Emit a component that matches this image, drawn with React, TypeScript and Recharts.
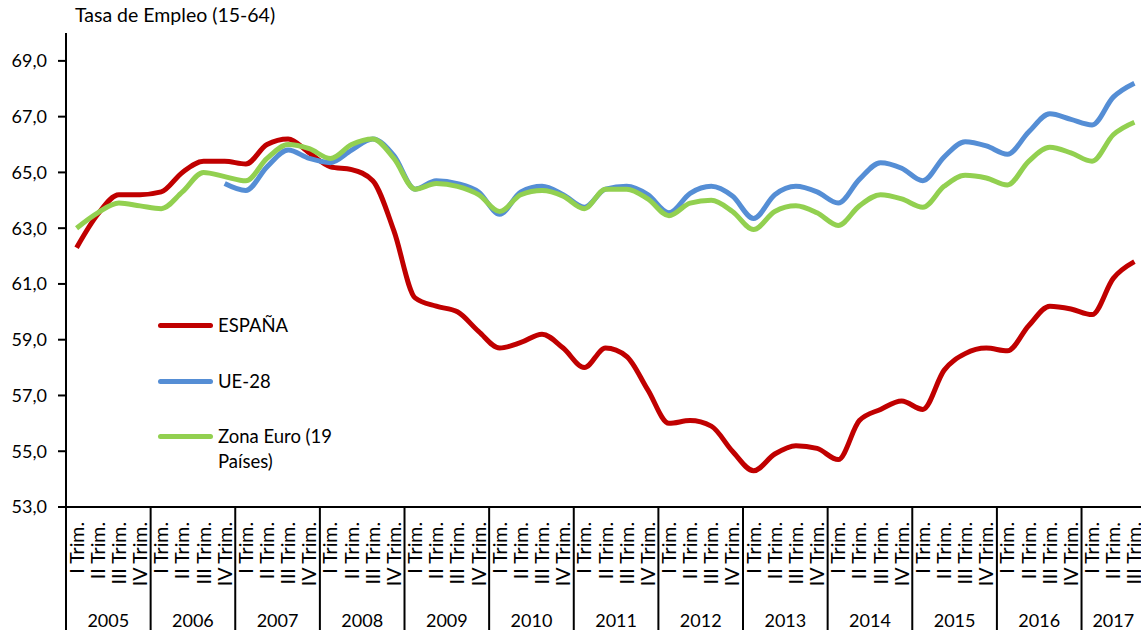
import React from 'react';
import { LineChart, Line, XAxis, YAxis, Legend } from 'recharts';

const years = ['2005', '2006', '2007', '2008', '2009', '2010', '2011', '2012', '2013', '2014', '2015', '2016', '2017'];
const quarterLabels = ['I Trim.', 'II Trim.', 'III Trim.', 'IV Trim.'];
const quartersPerYear = [4, 4, 4, 4, 4, 4, 4, 4, 4, 4, 4, 4, 3];

const espana = [
  62.3, 63.5, 64.2, 64.2,
  64.3, 65.0, 65.4, 65.4,
  65.3, 66.0, 66.2, 65.7,
  65.2, 65.1, 64.7, 62.9,
  60.5, 60.2, 60.0, 59.3,
  58.7, 58.9, 59.2, 58.7,
  58.0, 58.7, 58.4, 57.2,
  56.0, 56.1, 55.9, 55.0,
  54.3, 54.9, 55.2, 55.1,
  54.7, 56.1, 56.5, 56.8,
  56.5, 57.9, 58.5, 58.7,
  58.6, 59.5, 60.2, 60.1,
  59.9, 61.2, 61.8,
];

const ue28 = [
  null, null, null, null,
  null, null, null, 64.6,
  64.35, 65.2, 65.8, 65.5,
  65.35, 65.8, 66.2, 65.6,
  64.4, 64.7, 64.6, 64.3,
  63.5, 64.3, 64.5, 64.2,
  63.75, 64.4, 64.5, 64.2,
  63.55, 64.25, 64.5, 64.15,
  63.35, 64.2, 64.5, 64.3,
  63.9, 64.75, 65.35, 65.15,
  64.7, 65.55, 66.1, 65.95,
  65.65, 66.45, 67.1, 66.9,
  66.7, 67.7, 68.2,
];

const zonaEuro = [
  63.0, 63.55, 63.9, 63.8,
  63.7, 64.3, 65.0, 64.85,
  64.7, 65.5, 66.0, 65.85,
  65.5, 66.0, 66.2, 65.5,
  64.4, 64.6, 64.5, 64.2,
  63.6, 64.2, 64.35, 64.15,
  63.7, 64.4, 64.4, 64.05,
  63.45, 63.9, 64.0, 63.6,
  62.95, 63.6, 63.8, 63.55,
  63.1, 63.8, 64.2, 64.05,
  63.75, 64.5, 64.9, 64.8,
  64.55, 65.4, 65.9, 65.7,
  65.4, 66.35, 66.8,
];

const yTicks = [53, 55, 57, 59, 61, 63, 65, 67, 69];

const FONT = 'Lato, "Open Sans", sans-serif';

// build quarter table from arrays
const yearOfIndex: number[] = [];
const quarterOfIndex: number[] = [];
quartersPerYear.forEach((n, yi) => {
  for (let q = 0; q < n; q++) {
    yearOfIndex.push(yi);
    quarterOfIndex.push(q);
  }
});

const data = espana.map((v, i) => ({
  key: `${years[yearOfIndex[i]]} ${quarterLabels[quarterOfIndex[i]]}`,
  espana: v,
  ue28: ue28[i],
  zona: zonaEuro[i],
}));

const QuarterTick = (props: any) => {
  const { x, y, payload, index } = props;
  const i = typeof index === 'number' ? index : payload.index;
  const half = payload && typeof payload.offset === 'number' ? payload.offset : 0;
  const q = quarterOfIndex[i];
  const yi = yearOfIndex[i];
  const isYearStart = q === 0;
  const startX = x - half;
  const n = quartersPerYear[yi];
  return (
    <g>
      <text
        x={x}
        y={y + 15}
        transform={`rotate(-90 ${x} ${y + 15})`}
        textAnchor="end"
        dy="0.36em"
        fontSize={19.5}
        fontFamily={FONT}
        fill="#000"
      >
        {quarterLabels[q]}
      </text>
      {isYearStart && (
        <line x1={startX} x2={startX} y1={y} y2={y + 125} stroke="#000" strokeWidth={2} />
      )}
      {isYearStart && (
        <text
          x={startX + n * half}
          y={y + 120}
          textAnchor="middle"
          fontSize={18}
          fontFamily={FONT}
          fill="#000"
        >
          {years[yi]}
        </text>
      )}
    </g>
  );
};

const renderLegend = (props: any) => {
  const { payload } = props;
  return (
    <div style={{ fontFamily: FONT, fontSize: 18.5, color: '#000' }}>
      {(payload || []).map((p: any, i: number) => (
        <div key={i} style={{ display: 'flex', alignItems: 'flex-start', height: 55.5 }}>
          <span
            style={{
              display: 'inline-block',
              width: 55,
              height: 5,
              borderRadius: 3,
              background: p.color,
              marginTop: 10,
              marginRight: 5,
            }}
          />
          <span style={{ width: 128, lineHeight: '25px' }}>{p.value}</span>
        </div>
      ))}
    </div>
  );
};

export default function App() {
  return (
    <div
      style={{
        position: 'absolute',
        left: 0,
        top: 0,
        width: 1141,
        height: 630,
        overflow: 'hidden',
        background: '#fff',
      }}
    >
      <div
        style={{
          position: 'absolute',
          left: 75,
          top: 5,
          fontFamily: FONT,
          fontSize: 19.5,
          lineHeight: '19px',
          color: '#000',
          whiteSpace: 'nowrap',
          zIndex: 2,
        }}
      >
        Tasa de Empleo (15-64)
      </div>
      <LineChart
        width={1146}
        height={630}
        data={data}
        margin={{ top: 33, right: 1, bottom: 0, left: 0 }}
      >
        <XAxis
          dataKey="key"
          scale="band"
          interval={0}
          height={123}
          tickSize={0}
          tickMargin={0}
          tickLine={false}
          axisLine={{ stroke: '#000', strokeWidth: 2 }}
          tick={<QuarterTick />}
        />
        <YAxis
          width={66}
          domain={[53, 70]}
          ticks={yTicks}
          allowDataOverflow
          tickSize={8}
          tickMargin={11}
          tickLine={{ stroke: '#000', strokeWidth: 2 }}
          axisLine={{ stroke: '#000', strokeWidth: 2 }}
          tick={{ fill: '#000', fontSize: 18, fontFamily: FONT }}
          tickFormatter={(v: number) => v.toFixed(1).replace('.', ',')}
        />
        <Legend
          layout="vertical"
          align="center"
          verticalAlign="middle"
          content={renderLegend}
          wrapperStyle={{ left: 158, top: 313, width: 'auto' }}
        />
        <Line
          type="monotone"
          dataKey="espana"
          name="ESPAÑA"
          stroke="#C00000"
          strokeWidth={5}
          dot={false}
          activeDot={false}
          isAnimationActive={false}
        />
        <Line
          type="monotone"
          dataKey="ue28"
          name="UE-28"
          stroke="#558ED5"
          strokeWidth={5}
          dot={false}
          activeDot={false}
          isAnimationActive={false}
        />
        <Line
          type="monotone"
          dataKey="zona"
          name="Zona Euro (19 Países)"
          stroke="#92D050"
          strokeWidth={5}
          dot={false}
          activeDot={false}
          isAnimationActive={false}
        />
      </LineChart>
    </div>
  );
}
